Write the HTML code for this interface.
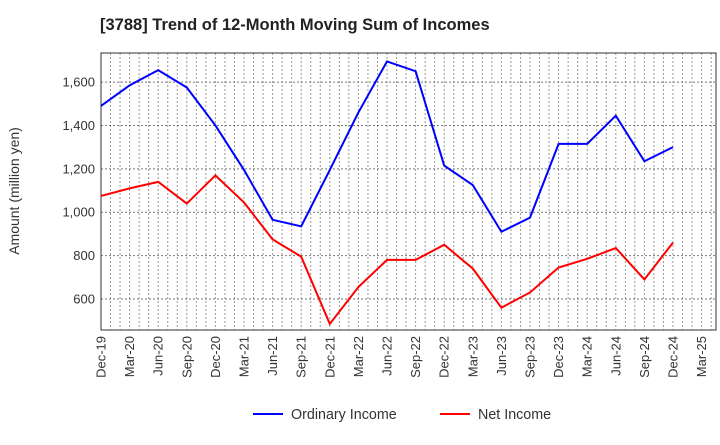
<!DOCTYPE html>
<html><head><meta charset="utf-8"><style>
body{margin:0;background:#fff;font-family:"Liberation Sans",Arial,sans-serif;}
</style></head><body>
<svg id="c" width="720" height="440" xmlns="http://www.w3.org/2000/svg">
<text x="100" y="30" font-size="16.5" font-weight="bold" fill="#222">[3788]  Trend of 12-Month Moving Sum of Incomes</text>
<text transform="translate(19,191) rotate(-90)" text-anchor="middle" font-size="14" fill="#333">Amount (million yen)</text>
<g id="grid"></g><g id="axes"></g><g id="series"></g>
<g>
<line x1="253" y1="414" x2="283" y2="414" stroke="#0000ff" stroke-width="2"/>
<text x="291" y="419" font-size="14.3" fill="#333">Ordinary Income</text>
<line x1="440" y1="414" x2="470" y2="414" stroke="#ff0000" stroke-width="2"/>
<text x="478" y="419" font-size="14.3" fill="#333">Net Income</text>
</g>
</svg>
<script>
const categories=["Dec-19","Mar-20","Jun-20","Sep-20","Dec-20","Mar-21","Jun-21","Sep-21","Dec-21","Mar-22","Jun-22","Sep-22","Dec-22","Mar-23","Jun-23","Sep-23","Dec-23","Mar-24","Jun-24","Sep-24","Dec-24","Mar-25"];
const ordinaryIncome=[1490,1585,1655,1575,1400,1195,965,935,1195,1460,1695,1650,1215,1125,910,975,1315,1315,1445,1235,1300];
const netIncome=[1075,1110,1140,1040,1170,1045,875,795,485,655,780,780,850,740,560,630,745,785,835,690,860];
const yTicks=[600,800,1000,1200,1400,1600];
const yTickLabels=["600","800","1,000","1,200","1,400","1,600"];
const L=101,R=716,T=53,B=330,yMin=457,yMax=1734,step=28.6;
const NS="http://www.w3.org/2000/svg";
const xs=i=>L+i*step, ys=v=>B-(v-yMin)/(yMax-yMin)*(B-T);
function mk(tag,attrs,parent){const e=document.createElementNS(NS,tag);for(const k in attrs)e.setAttribute(k,attrs[k]);document.getElementById(parent).appendChild(e);return e;}
for(let m=1;m<(categories.length-1)*3+2;m++){const x=L+m*step/3;if(x>=R)break;
 const g=mk('line',{x1:x,x2:x,y1:T,y2:B,stroke:'#999','stroke-dasharray':'2,2','stroke-width':1},'grid');
 
 }
yTicks.forEach((v,i)=>{const y=ys(v);
 const g=mk('line',{x1:L,x2:R,y1:y,y2:y,stroke:'#777','stroke-dasharray':'2,2'},'grid');
 
 
 const t=mk('text',{x:L-6,y:y+4.5,'text-anchor':'end','font-size':13,fill:'#333'},'axes');t.textContent=yTickLabels[i];
 
 });
categories.forEach((c,i)=>{const x=xs(i);
 const t=mk('text',{transform:`translate(${x+4.5},${B+6}) rotate(-90)`,'text-anchor':'end','font-size':13,fill:'#333'},'axes');t.textContent=c;
 
 });
const fr=mk('rect',{x:L,y:T,width:R-L,height:B-T,fill:'none',stroke:'#333','stroke-width':1},'axes');


function line(data,color,name){const p=mk('polyline',{points:data.map((v,i)=>xs(i)+','+ys(v)).join(' '),fill:'none',stroke:color,'stroke-width':2},'series');
 
 }
line(ordinaryIncome,'#0000ff','ordinary-income-line');
line(netIncome,'#ff0000','net-income-line');
</script>
</body></html>
